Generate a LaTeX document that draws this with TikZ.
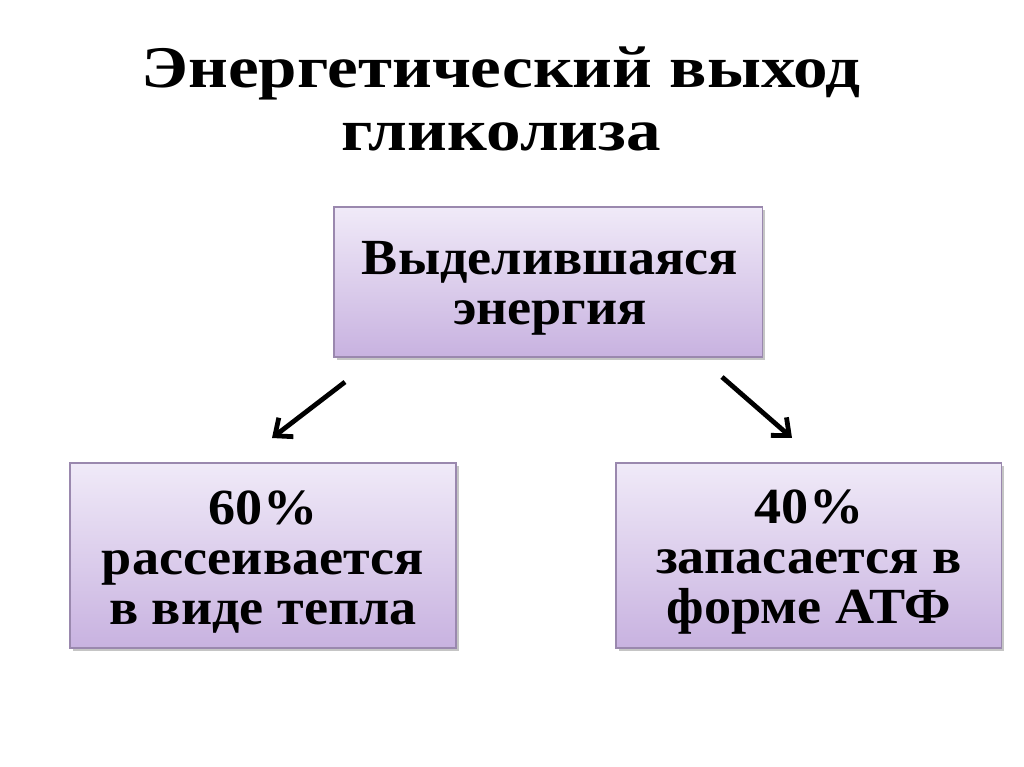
\documentclass[tikz,border=0pt]{standalone}
\usepackage{fontspec}
\setmainfont{Liberation Serif}
\newfontfamily\boxfont{Liberation Serif}[FakeStretch=1.07]
\newfontfamily\titlefont{Liberation Serif}[FakeStretch=1.17]
\usetikzlibrary{arrows.meta,shadows}
\begin{document}
\begin{tikzpicture}[x=0.025cm,y=-0.025cm,
  box/.style={draw=boxborder,line width=0.8pt,top color=boxtop,bottom color=boxbot,
    drop shadow={shadow xshift=2pt,shadow yshift=-2pt,fill=black!45,opacity=0.5},
    inner sep=0pt},
  boxtext/.style={align=center,font=\boxfont\bfseries\fontsize{36}{35.5}\selectfont},
  arr/.style={line width=3.4pt,-{Straight Barb[length=10pt,width=17pt,line width=3.4pt]}},
  ttl/.style={align=center,font=\titlefont\bfseries\fontsize{42}{45}\selectfont}]
\definecolor{boxborder}{HTML}{9A88AE}
\definecolor{boxtop}{HTML}{F0EAF8}
\definecolor{boxbot}{HTML}{C8B2E0}
\useasboundingbox[fill=white] (0,0) rectangle (1024,767);
\node[ttl] (title) at (501,99) {Энергетический выход\\гликолиза};
\node[box,minimum width=10.7cm,minimum height=3.75cm] (top) at (548,282) {};
\node[boxtext] (toptext) at (550,288) {Выделившаяся\\энергия};
\node[box,minimum width=9.65cm,minimum height=4.625cm] (left) at (263,555.5) {};
\node[boxtext] (lefttext) at (263,562) {60\%\\рассеивается\\в виде тепла};
\node[box,minimum width=9.625cm,minimum height=4.625cm] (right) at (808.5,555.5) {};
\node[boxtext] (righttext) at (809,562) {40\%\\запасается в\\форме АТФ};
\coordinate (a1) at (345,382);
\coordinate (b1) at (272,438);
\coordinate (a2) at (722,377);
\coordinate (b2) at (792,438);
\draw[arr] (a1) -- (b1);
\draw[arr] (a2) -- (b2);
\end{tikzpicture}
\end{document}
